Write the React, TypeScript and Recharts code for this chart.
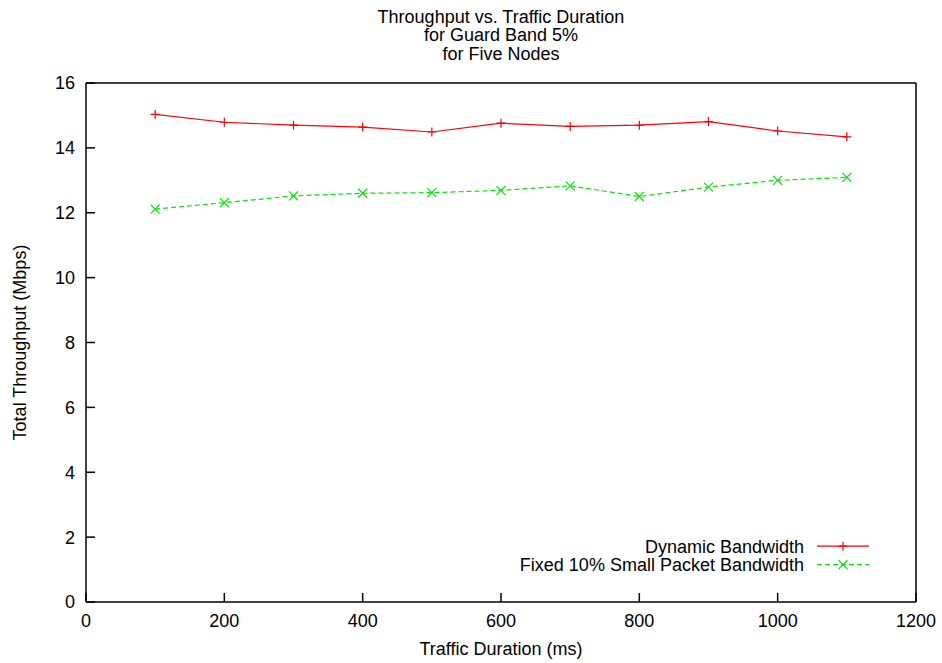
import React from 'react';
import { LineChart, Line, XAxis, YAxis, Legend } from 'recharts';

// traffic duration (ms)
const durations = [100, 200, 300, 400, 500, 600, 700, 800, 900, 1000, 1100];
// total throughput (Mbps)
const dynamicBandwidth = [15.03, 14.79, 14.7, 14.64, 14.49, 14.76, 14.66, 14.7, 14.81, 14.52, 14.34];
const fixedBandwidth = [12.11, 12.31, 12.52, 12.6, 12.62, 12.69, 12.83, 12.5, 12.79, 13.0, 13.09];

const xTicks = [0, 200, 400, 600, 800, 1000, 1200];
const yTicks = [0, 2, 4, 6, 8, 10, 12, 14, 16];

const titleLines = ['Throughput vs. Traffic Duration', 'for Guard Band 5%', 'for Five Nodes'];

const FONT = '"Liberation Sans", Arial, Helvetica, sans-serif';
const FS = 18;
const RED = '#ff0000';
const GREEN = '#00e600';

const chartData = durations.map((d, i) => ({
  duration: d,
  dynamic: dynamicBandwidth[i],
  fixed: fixedBandwidth[i],
}));

const PlusDot = (props: any) => {
  const { cx, cy } = props;
  if (cx == null || cy == null) return null;
  return (
    <path
      d={`M${cx - 4.5},${cy}H${cx + 4.5}M${cx},${cy - 4.5}V${cy + 4.5}`}
      stroke={RED}
      strokeWidth={1.2}
      strokeDasharray="none"
      fill="none"
    />
  );
};

const CrossDot = (props: any) => {
  const { cx, cy } = props;
  if (cx == null || cy == null) return null;
  return (
    <path
      d={`M${cx - 4.5},${cy - 4.5}L${cx + 4.5},${cy + 4.5}M${cx + 4.5},${cy - 4.5}L${cx - 4.5},${cy + 4.5}`}
      stroke={GREEN}
      strokeWidth={1.2}
      strokeDasharray="none"
      fill="none"
    />
  );
};

const legendItems = [
  { name: 'Dynamic Bandwidth', color: RED, dash: undefined, marker: 'plus' },
  { name: 'Fixed 10% Small Packet Bandwidth', color: GREEN, dash: '5 3', marker: 'cross' },
];

const ChartLegend = () => (
  <svg width={520} height={42} style={{ display: 'block', overflow: 'visible' }}>
    {legendItems.map((item, i) => {
      const cy = 10.2 + i * 18.5;
      return (
        <g key={item.name}>
          <text x={432} y={cy + 6.4} textAnchor="end" fontSize={FS} fill="#000" fontFamily={FONT}>
            {item.name}
          </text>
          <line x1={445} x2={497} y1={cy} y2={cy} stroke={item.color} strokeWidth={1.2} strokeDasharray={item.dash} />
          {item.marker === 'plus' ? <PlusDot cx={471} cy={cy} /> : <CrossDot cx={471} cy={cy} />}
        </g>
      );
    })}
  </svg>
);

export default function App() {
  return (
    <div style={{ position: 'absolute', left: 0, top: 0, width: 942, height: 663, background: '#fff', fontFamily: FONT }}>
      <div
        style={{
          position: 'absolute',
          left: 201,
          top: 8,
          width: 600,
          textAlign: 'center',
          fontSize: FS,
          lineHeight: '18.3px',
          color: '#000',
        }}
      >
        {titleLines.map((t) => (
          <div key={t}>{t}</div>
        ))}
      </div>
      <LineChart width={942} height={663} data={chartData} margin={{ top: 82, right: 25, bottom: 0, left: 0 }}>
        <XAxis
          dataKey="duration"
          type="number"
          domain={[0, 1200]}
          ticks={xTicks}
          height={61}
          stroke="#000"
          strokeWidth={1.5}
          tickSize={-9}
          tickMargin={21}
          tick={{ fill: '#000', fontSize: FS, fontFamily: FONT }}
          label={{ value: 'Traffic Duration (ms)', position: 'insideBottom', offset: 8, fill: '#000', fontSize: FS, fontFamily: FONT }}
        />
        <XAxis
          xAxisId="top"
          orientation="top"
          type="number"
          domain={[0, 1200]}
          ticks={xTicks}
          height={1}
          stroke="#000"
          strokeWidth={1.5}
          tickSize={-9}
          tick={false}
        />
        <YAxis
          type="number"
          domain={[0, 16]}
          ticks={yTicks}
          width={86}
          stroke="#000"
          strokeWidth={1.5}
          tickSize={-9}
          tickMargin={20}
          tick={{ fill: '#000', fontSize: FS, fontFamily: FONT }}
          label={{
            value: 'Total Throughput (Mbps)',
            angle: -90,
            position: 'insideLeft',
            offset: 20,
            fill: '#000',
            fontSize: FS,
            fontFamily: FONT,
            style: { textAnchor: 'middle' },
          }}
        />
        <YAxis
          yAxisId="right"
          orientation="right"
          type="number"
          domain={[0, 16]}
          ticks={yTicks}
          width={1}
          stroke="#000"
          strokeWidth={1.5}
          tickSize={-9}
          tick={false}
        />
        <Legend
          layout="vertical"
          align="center"
          verticalAlign="middle"
          wrapperStyle={{ left: 372, top: 536, width: 520, height: 42 }}
          content={() => <ChartLegend />}
        />
        <Line
          dataKey="dynamic"
          name="Dynamic Bandwidth"
          stroke={RED}
          strokeWidth={1.2}
          dot={<PlusDot />}
          activeDot={false}
          isAnimationActive={false}
        />
        <Line
          dataKey="fixed"
          name="Fixed 10% Small Packet Bandwidth"
          stroke={GREEN}
          strokeWidth={1.2}
          strokeDasharray="5 3"
          dot={<CrossDot />}
          activeDot={false}
          isAnimationActive={false}
        />
      </LineChart>
    </div>
  );
}
